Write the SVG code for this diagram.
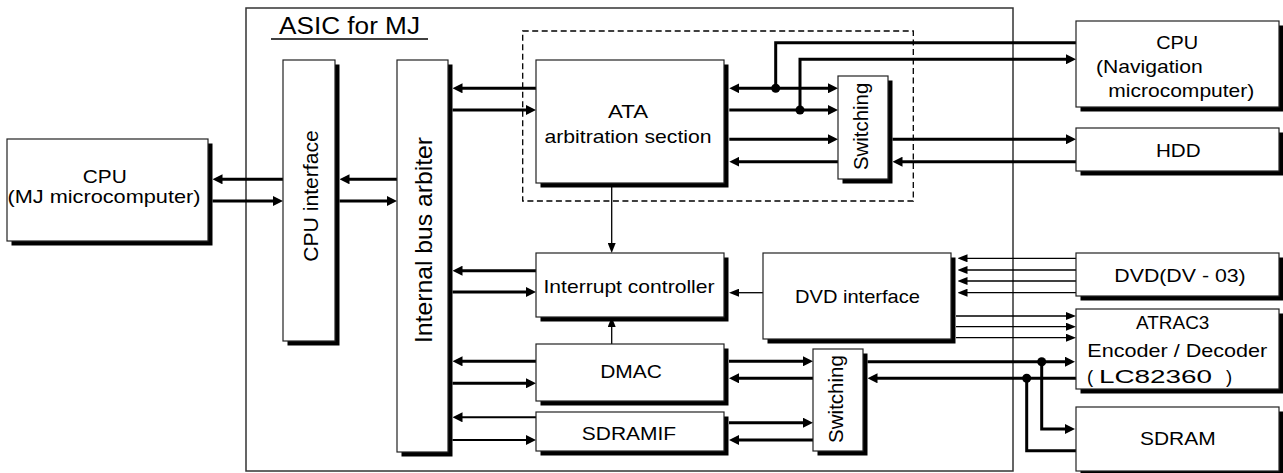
<svg xmlns="http://www.w3.org/2000/svg" width="1283" height="473" viewBox="0 0 1283 473">
<style>
.box{fill:#fff;stroke:#222;stroke-width:1.2}
.sh{fill:#000}
.t{font-family:"Liberation Sans",Arial,sans-serif;font-size:18.5px;fill:#000;text-anchor:middle}
.ts{font-family:"Liberation Sans",Arial,sans-serif;font-size:18.5px;fill:#000}
.v{font-family:"Liberation Sans",Arial,sans-serif;font-size:21px;fill:#000;text-anchor:middle}
.w{stroke:#000;stroke-width:3;fill:none}
.w2{stroke:#000;stroke-width:2;fill:none}
.n{stroke:#000;stroke-width:1.3;fill:none}
.ea{marker-end:url(#a)}
.sa{marker-start:url(#a)}
.eb{marker-end:url(#b)}
</style>
<defs>
<marker id="a" viewBox="0 0 10 10" refX="5" refY="5" markerWidth="10" markerHeight="10" markerUnits="userSpaceOnUse" orient="auto-start-reverse"><path d="M0,0L10,5L0,10z" fill="#000"/></marker>
<marker id="b" viewBox="0 0 10 8" refX="5" refY="4" markerWidth="10" markerHeight="8" markerUnits="userSpaceOnUse" orient="auto"><path d="M0,0L10,4L0,8z" fill="#000"/></marker>
</defs>
<rect width="1283" height="473" fill="#fff"/>

<g id="asic">
<rect x="246" y="8" width="767" height="463" fill="none" stroke="#333" stroke-width="1.5"/>
<text class="ts" x="279" y="34.3" style="font-size:23px" textLength="141" lengthAdjust="spacingAndGlyphs">ASIC for MJ</text>
<line x1="271" y1="39" x2="428" y2="39" stroke="#000" stroke-width="1.6"/>
</g>

<g id="ata-group">
<rect x="522.7" y="31" width="390.6" height="170" fill="none" stroke="#000" stroke-width="1.3" stroke-dasharray="6,3.5"/>
</g>

<g id="connectors">
<path class="w ea" d="M283,179.3H217.5"/>
<path class="w ea" d="M212.5,201H278"/>
<path class="w ea" d="M397,179.3H344.5"/>
<path class="w ea" d="M339.5,201H392"/>
<path class="w ea" d="M536,88.3H457.5"/>
<path class="w ea" d="M452.5,110H531"/>
<path class="w ea" d="M536,270.7H457.5"/>
<path class="w ea" d="M452.5,292H531"/>
<path class="w ea" d="M536,361.3H457.5"/>
<path class="w ea" d="M452.5,383.3H531"/>
<path class="w2 ea" d="M536,417.3H457.5"/>
<path class="w2 ea" d="M452.5,440H531"/>
<path class="w sa ea" d="M734.3,88.3H833"/>
<path class="w" d="M1076,42.7H775.7V88.3"/>
<path class="w ea" d="M729.3,110H833"/>
<path class="w ea" d="M800,110V59.3H1071"/>
<path class="w ea" d="M729.3,139.3H833"/>
<path class="w ea" d="M838,161.7H734.3"/>
<path class="w ea" d="M892.5,139.3H1071"/>
<path class="w ea" d="M1076,161.7H897.5"/>
<circle cx="775.7" cy="88.3" r="4.5"/>
<circle cx="800" cy="110" r="4.5"/>
<path class="w ea" d="M729,361.3H808"/>
<path class="w ea" d="M813,378.3H734"/>
<path class="w ea" d="M729,422.7H808"/>
<path class="w ea" d="M813,440H734"/>
<path class="w ea" d="M867.5,361.7H1070"/>
<path class="w ea" d="M1041.7,361.7V429H1070"/>
<path class="w ea" d="M1076,378.3H872.5"/>
<path class="w" d="M1076,450.7H1026.7V378.3"/>
<circle cx="1041.7" cy="361.7" r="4.5"/>
<circle cx="1026.7" cy="378.3" r="4.5"/>
<path class="n eb" d="M611.7,183V248"/>
<path class="n eb" d="M611.7,344V322"/>
<path class="n eb" d="M763,292.7H734"/>
<path class="n eb" d="M1076,258.3H962.5"/>
<path class="n eb" d="M1076,270H962.5"/>
<path class="n eb" d="M1076,281H962.5"/>
<path class="n eb" d="M1076,292.7H962.5"/>
<path class="n eb" d="M956,316H1071"/>
<path class="n eb" d="M956,326.7H1071"/>
<path class="n eb" d="M956,337.7H1071"/>
</g>

<g id="cpu-mj">
<rect class="sh" x="11.5" y="143.5" width="201" height="102"/>
<rect class="box" x="7" y="139" width="201" height="102"/>
<text class="t" x="104.7" y="183" textLength="44" lengthAdjust="spacingAndGlyphs">CPU</text>
<text class="t" x="104" y="203" textLength="193" lengthAdjust="spacingAndGlyphs">(MJ microcomputer)</text>
</g>

<g id="cpu-interface">
<rect class="sh" x="287.5" y="64.5" width="52" height="281"/>
<rect class="box" x="283" y="60" width="52" height="281"/>
<text class="v" transform="translate(318,196) rotate(-90)" textLength="131.7" lengthAdjust="spacingAndGlyphs">CPU interface</text>
</g>

<g id="bus-arbiter">
<rect class="sh" x="401.5" y="64.5" width="51" height="392"/>
<rect class="box" x="397" y="60" width="51" height="392"/>
<text class="v" style="font-size:24px" transform="translate(431.5,240) rotate(-90)" textLength="206" lengthAdjust="spacingAndGlyphs">Internal bus arbiter</text>
</g>

<g id="ata">
<rect class="sh" x="540.5" y="64.5" width="188" height="123"/>
<rect class="box" x="536" y="60" width="188" height="123"/>
<text class="t" x="628" y="118.3" textLength="40" lengthAdjust="spacingAndGlyphs">ATA</text>
<text class="t" x="628" y="142.7" textLength="167" lengthAdjust="spacingAndGlyphs">arbitration section</text>
</g>

<g id="switching-top">
<rect class="sh" x="842.5" y="80.5" width="50" height="103"/>
<rect class="box" x="838" y="76" width="50" height="103"/>
<text class="v" style="font-size:20.4px" transform="translate(868,126.4) rotate(-90)" textLength="87.3" lengthAdjust="spacingAndGlyphs">Switching</text>
</g>

<g id="interrupt">
<rect class="sh" x="540.5" y="257.5" width="188" height="64"/>
<rect class="box" x="536" y="253" width="188" height="64"/>
<text class="t" x="629" y="293.3" textLength="171" lengthAdjust="spacingAndGlyphs">Interrupt controller</text>
</g>

<g id="dvd-interface">
<rect class="sh" x="767.5" y="257.5" width="188" height="86"/>
<rect class="box" x="763" y="253" width="188" height="86"/>
<text class="t" x="857.5" y="303.3" textLength="125" lengthAdjust="spacingAndGlyphs">DVD interface</text>
</g>

<g id="dmac">
<rect class="sh" x="540.5" y="348.5" width="188" height="57"/>
<rect class="box" x="536" y="344" width="188" height="57"/>
<text class="t" x="631" y="378.3" textLength="61.7" lengthAdjust="spacingAndGlyphs">DMAC</text>
</g>

<g id="sdramif">
<rect class="sh" x="540.5" y="416.5" width="188" height="39"/>
<rect class="box" x="536" y="412" width="188" height="39"/>
<text class="t" x="629" y="440" textLength="94.3" lengthAdjust="spacingAndGlyphs">SDRAMIF</text>
</g>

<g id="switching-bottom">
<rect class="sh" x="817.5" y="353.5" width="50" height="102"/>
<rect class="box" x="813" y="349" width="50" height="102"/>
<text class="v" style="font-size:20.4px" transform="translate(842.5,399) rotate(-90)" textLength="88" lengthAdjust="spacingAndGlyphs">Switching</text>
</g>

<g id="cpu-nav">
<rect class="sh" x="1080.5" y="25.5" width="203" height="86"/>
<rect class="box" x="1076" y="21" width="203" height="86"/>
<text class="t" x="1177.2" y="49.3" textLength="42" lengthAdjust="spacingAndGlyphs">CPU</text>
<text class="ts" x="1096" y="72.7" textLength="106.7" lengthAdjust="spacingAndGlyphs">(Navigation</text>
<text class="ts" x="1108.3" y="96.7" textLength="146" lengthAdjust="spacingAndGlyphs">microcomputer)</text>
</g>

<g id="hdd">
<rect class="sh" x="1080.5" y="132.5" width="203" height="43"/>
<rect class="box" x="1076" y="128" width="203" height="43"/>
<text class="t" x="1178.3" y="157.3" textLength="44.7" lengthAdjust="spacingAndGlyphs">HDD</text>
</g>

<g id="dvd">
<rect class="sh" x="1080.5" y="257.5" width="203" height="43"/>
<rect class="box" x="1076" y="253" width="203" height="43"/>
<text class="t" x="1180" y="281.7" textLength="131.4" lengthAdjust="spacingAndGlyphs">DVD(DV - 03)</text>
</g>

<g id="atrac">
<rect class="sh" x="1080.5" y="313.5" width="203" height="80"/>
<rect class="box" x="1076" y="309" width="203" height="80"/>
<text class="t" x="1172.7" y="329.3" textLength="73.3" lengthAdjust="spacingAndGlyphs">ATRAC3</text>
<text class="t" x="1177.3" y="356.7" textLength="180" lengthAdjust="spacingAndGlyphs">Encoder / Decoder</text>
<text class="ts" y="382.7"><tspan x="1087">(</tspan><tspan x="1099" textLength="113" lengthAdjust="spacingAndGlyphs">LC82360</tspan><tspan x="1226">)</tspan></text>
</g>

<g id="sdram">
<rect class="sh" x="1080.5" y="411.5" width="203" height="64"/>
<rect class="box" x="1076" y="407" width="203" height="64"/>
<text class="t" x="1177.8" y="445" textLength="75.7" lengthAdjust="spacingAndGlyphs">SDRAM</text>
</g>
</svg>
